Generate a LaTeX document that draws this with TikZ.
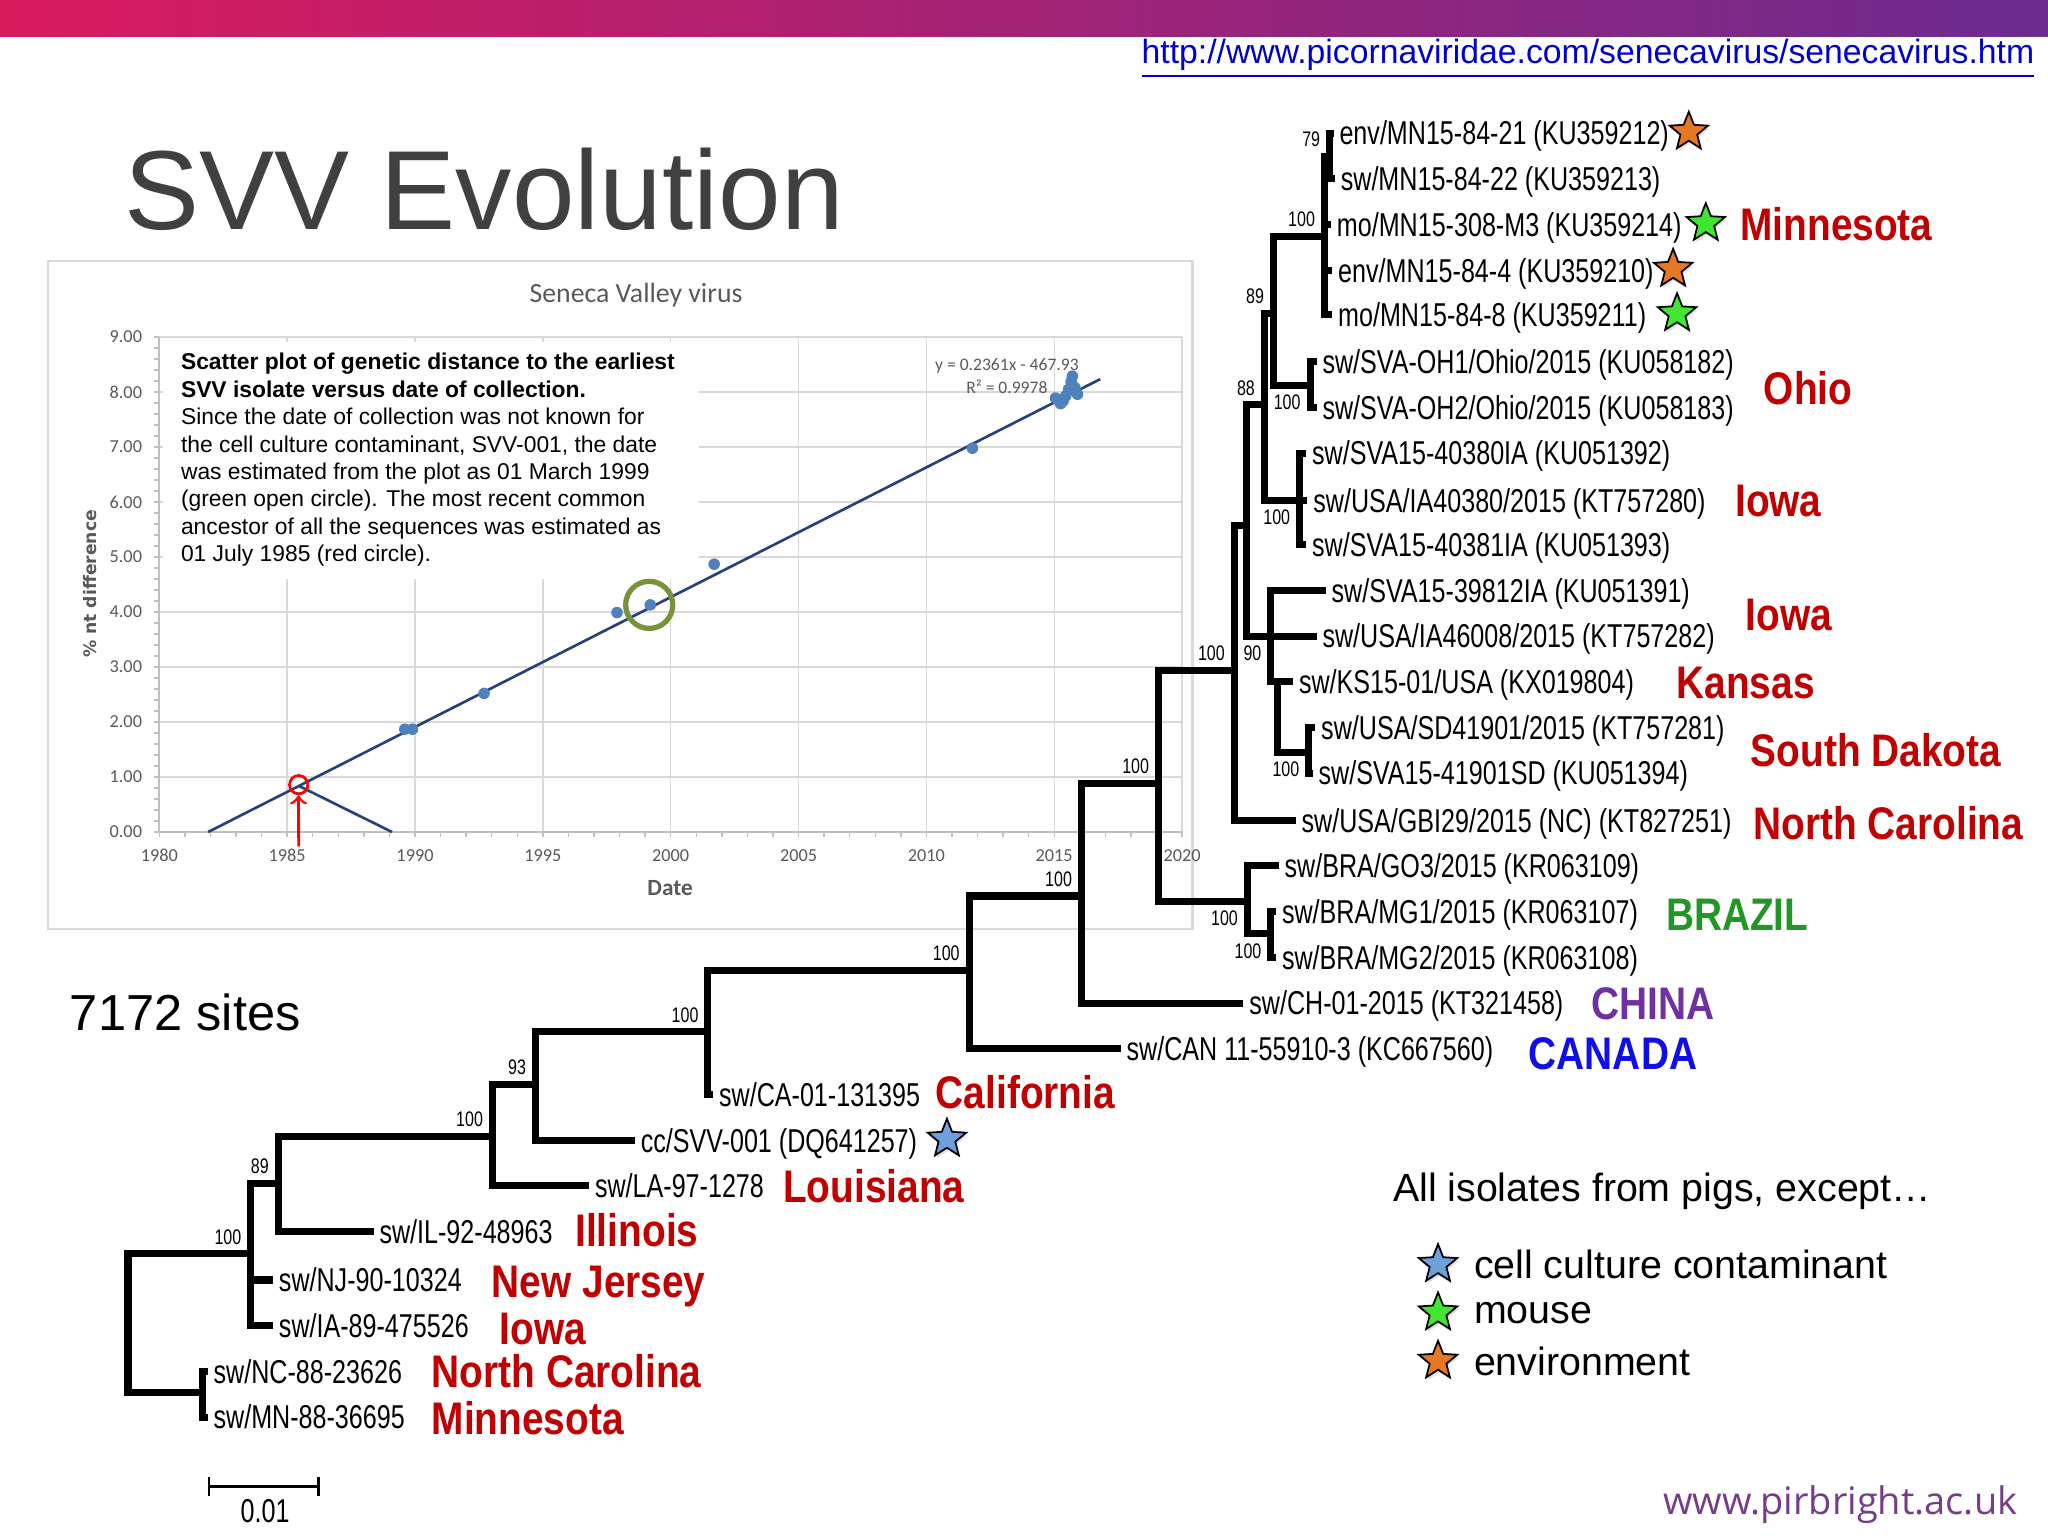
\documentclass[tikz,border=0pt]{standalone}
\usepackage{fontspec}
\setmainfont{Liberation Sans}
\newfontfamily\narrowfont{Liberation Sans}[FakeStretch=0.76]
\newfontfamily\regionfont{Liberation Sans}[FakeStretch=0.85]
\newfontfamily\chartfont{Carlito}
\newfontfamily\axisfont{DejaVu Sans}
\newfontfamily\webfont{Open Sans}
\usepackage{tikz}
\usetikzlibrary{positioning, shapes.geometric, shadows, arrows}

\definecolor{barleft}{RGB}{217,27,92}
\definecolor{barright}{RGB}{108,43,143}
\definecolor{titlegray}{RGB}{64,64,64}
\definecolor{linkblue}{RGB}{0,0,204}
\definecolor{chartgray}{RGB}{89,89,89}
\definecolor{gridgray}{RGB}{217,217,217}
\definecolor{axisgray}{RGB}{191,191,191}
\definecolor{trendblue}{RGB}{37,64,122}
\definecolor{dotblue}{RGB}{79,129,189}
\definecolor{olivegreen}{RGB}{119,147,60}
\definecolor{regionred}{RGB}{192,0,0}
\definecolor{brazilgreen}{RGB}{36,150,40}
\definecolor{chinapurple}{RGB}{112,48,160}
\definecolor{canadablue}{RGB}{16,16,230}
\definecolor{starorange}{RGB}{232,119,34}
\definecolor{stargreen}{RGB}{64,230,50}
\definecolor{starblue}{RGB}{110,160,220}
\definecolor{pirpurple}{RGB}{118,60,140}

\tikzset{
  branch/.style={line width=2pt, line join=miter},
  leaf/.style={anchor=west, inner xsep=1.5pt, inner ysep=0pt, text height=8.4pt, text depth=1.7pt, font=\narrowfont\fontsize{9.4pt}{10.5pt}\selectfont},
  region/.style={anchor=west, inner sep=0pt, text height=11pt, text depth=1.7pt, font=\regionfont\bfseries\fontsize{13pt}{14pt}\selectfont, text=regionred},
  boot/.style={inner sep=2.5pt, font=\narrowfont\fontsize{6pt}{6.5pt}\selectfont},
  starmark/.style={star, star points=5, star point ratio=2.3, minimum size=11.5pt, inner sep=0pt, draw=black, line width=0.5pt, drop shadow={opacity=0.25, shadow xshift=0.4pt, shadow yshift=-0.8pt}},
  legendtext/.style={anchor=west, inner sep=0pt, font=\fontsize{11.2pt}{13pt}\selectfont},
  gridline/.style={draw=gridgray, line width=0.4pt},
  ticklabel/.style={inner sep=0pt, text=chartgray, font=\chartfont\fontsize{5.2pt}{6pt}\selectfont},
  datadot/.style={circle, fill=dotblue, inner sep=0pt, minimum size=3.3pt},
  trend/.style={draw=trendblue, line width=0.75pt},
  notetext/.style={anchor=north west, inner sep=0pt, align=left, font=\fontsize{6.5pt}{7.8pt}\selectfont}
}

\begin{document}
\begin{tikzpicture}[x=0.013061cm, y=-0.013061cm]
\useasboundingbox (0,0) rectangle (1568,1176);

% header
\shade[left color=barleft, right color=barright] (0,0) rectangle (1568,28);
\node[anchor=east, inner sep=0pt, text=linkblue, font=\fontsize{9.6pt}{11pt}\selectfont] (url) at (1558,45) {\underline{http://www.picornaviridae.com/senecavirus/senecavirus.htm}};
\node[anchor=west, inner sep=0pt, text=titlegray, font=\fontsize{32pt}{36pt}\selectfont] (title) at (95,145) {SVV Evolution};

% scatter plot
\draw[gridgray, line width=0.6pt] (37,200) rectangle (913,711);
\node[font=\chartfont\fontsize{7.9pt}{9pt}\selectfont, text=chartgray] (ctitle) at (487,226) {Seneca Valley virus};
\node[rotate=90, font=\axisfont\bfseries\fontsize{4.9pt}{6pt}\selectfont, text=chartgray] (ytitle) at (69,447) {\% nt difference};
\node[font=\chartfont\bfseries\fontsize{6.6pt}{8pt}\selectfont, text=chartgray] (xtitle) at (513,680) {Date};
\begin{scope}[shift={(122,637)}, xscale=19.575, yscale=-42.1]
  \foreach \v in {1,...,9} \draw[gridline] (0,\v) -- (40,\v);
  \foreach \t in {5,10,...,40} \draw[gridline] (\t,0) -- (\t,9);
  \draw[axisgray, line width=0.5pt] (0,0) -- (40,0) (0,0) -- (0,9);
  \foreach \v in {0,0.2,...,9} \draw[axisgray, line width=0.4pt] (0,\v) -- (-0.2,\v);
  \foreach \t in {0,...,40} \draw[axisgray, line width=0.4pt] (\t,0) -- (\t,-0.09);
  \foreach \v in {0,...,9} \node[ticklabel, anchor=east] at (-0.65,\v) {\v.00};
  \foreach \t [evaluate=\t as \yr using int(1980+\t)] in {0,5,...,40} \node[ticklabel, anchor=north] at (\t,-0.3) {\yr};
  \fill[white] (0.15,8.91) rectangle (21.1,4.61);
  \node[notetext] (note) at (0.82,8.72) {\textbf{Scatter plot of genetic distance to the earliest}\\
    \textbf{SVV isolate versus date of collection.}\\
    Since the date of collection was not known for\\
    the cell culture contaminant, SVV-001, the date\\
    was estimated from the plot as 01 March 1999\\
    (green open circle). The most recent common\\
    ancestor of all the sequences was estimated as\\
    01 July 1985 (red circle).};
  \node[align=center, inner sep=0pt, text=chartgray, font=\chartfont\fontsize{5pt}{6.3pt}\selectfont] (eq) at (33.15,8.29) {y = 0.2361x - 467.93\\R² = 0.9978};
  \draw[trend] (1.91,0) -- (36.8,8.236);
  \draw[trend] (5.45,0.84) -- (9.1,0);
  \foreach \t/\v in {9.6/1.87, 9.9/1.87, 12.7/2.52, 17.9/3.99, 19.2/4.13, 21.7/4.87, 31.8/6.98,
      35.05/7.89, 35.25/7.79, 35.45/7.93, 35.66/8.19, 35.71/8.29, 35.81/8.08, 35.91/7.96, 35.56/8.05, 35.35/7.84}
    \node[datadot] at (\t,\v) {};
  \node[circle, draw=olivegreen, line width=1.5pt, minimum size=13.4pt, inner sep=0pt] (svv) at (19.16,4.13) {};
  \node[circle, draw=red, line width=0.8pt, minimum size=5.2pt, inner sep=0pt] (mrca) at (5.45,0.86) {};
  \draw[->, red, line width=0.8pt] (5.45,-0.26) -- (mrca.south);
\end{scope}

% tree: internal nodes
\coordinate (root) at (98,1013);
\coordinate (nK) at (192,960);
\coordinate (nL) at (155,1066);
\coordinate (nJ) at (213,906);
\coordinate (nI) at (377,870);
\coordinate (nH) at (410,830);
\coordinate (nG) at (542,790);
\coordinate (nF) at (742,743);
\coordinate (nE) at (828,686);
\coordinate (nD) at (887,600);
\coordinate (nA) at (945,513);
\coordinate (nB) at (954,402);
\coordinate (n88) at (968,310);
\coordinate (n89) at (975,240);
\coordinate (nMN) at (1014,181);
\coordinate (n79) at (1018,119.5);
\coordinate (nOH) at (1003,295);
\coordinate (nIA) at (995,383);
\coordinate (n90) at (973,487);
\coordinate (nC) at (978,522);
\coordinate (nSD) at (1002,576);
\coordinate (nBR) at (955,690);
\coordinate (nMG) at (973,715);

% tree: leaves
\node[leaf] (l1) at (1021,102) {env/MN15-84-21 (KU359212)};
\node[leaf] (l2) at (1022,137) {sw/MN15-84-22 (KU359213)};
\node[leaf] (l3) at (1019,172) {mo/MN15-308-M3 (KU359214)};
\node[leaf] (l4) at (1020,207) {env/MN15-84-4 (KU359210)};
\node[leaf] (l5) at (1020,241) {mo/MN15-84-8 (KU359211)};
\node[leaf] (l6) at (1008,277) {sw/SVA-OH1/Ohio/2015 (KU058182)};
\node[leaf] (l7) at (1008,312) {sw/SVA-OH2/Ohio/2015 (KU058183)};
\node[leaf] (l8) at (1000,347) {sw/SVA15-40380IA (KU051392)};
\node[leaf] (l9) at (1001,383) {sw/USA/IA40380/2015 (KT757280)};
\node[leaf] (l10) at (1000,417) {sw/SVA15-40381IA (KU051393)};
\node[leaf] (l11) at (1015,452) {sw/SVA15-39812IA (KU051391)};
\node[leaf] (l12) at (1008,487) {sw/USA/IA46008/2015 (KT757282)};
\node[leaf] (l13) at (990,522) {sw/KS15-01/USA (KX019804)};
\node[leaf] (l14) at (1007,557) {sw/USA/SD41901/2015 (KT757281)};
\node[leaf] (l15) at (1005,592) {sw/SVA15-41901SD (KU051394)};
\node[leaf] (l16) at (992,628) {sw/USA/GBI29/2015 (NC) (KT827251)};
\node[leaf] (l17) at (979,663) {sw/BRA/GO3/2015 (KR063109)};
\node[leaf] (l18) at (977,698) {sw/BRA/MG1/2015 (KR063107)};
\node[leaf] (l19) at (977,733) {sw/BRA/MG2/2015 (KR063108)};
\node[leaf] (l20) at (952,768) {sw/CH-01-2015 (KT321458)};
\node[leaf] (l21) at (858,803) {sw/CAN 11-55910-3 (KC667560)};
\node[leaf] (l22) at (546,838) {sw/CA-01-131395};
\node[leaf] (l23) at (486,873) {cc/SVV-001 (DQ641257)};
\node[leaf] (l24) at (451,908) {sw/LA-97-1278};
\node[leaf] (l25) at (286,943) {sw/IL-92-48963};
\node[leaf] (l26) at (209,980) {sw/NJ-90-10324};
\node[leaf] (l27) at (209,1015) {sw/IA-89-475526};
\node[leaf] (l28) at (159,1050) {sw/NC-88-23626};
\node[leaf] (l29) at (159,1085) {sw/MN-88-36695};

% tree: branches
\foreach \p/\c in {root/nK, root/nL, nK/nJ, nK/l26.west, nK/l27.west, nJ/nI, nJ/l25.west,
    nI/nH, nI/l24.west, nH/nG, nH/l23.west, nG/nF, nG/l22.west, nF/nE, nF/l21.west,
    nE/nD, nE/l20.west, nD/nA, nD/nBR, nA/nB, nA/l16.west, nB/n88, nB/n90,
    n88/n89, n88/nIA, n89/nMN, n89/nOH, nMN/n79, nMN/l3.west, nMN/l4.west, nMN/l5.west,
    n79/l1.west, n79/l2.west, nOH/l6.west, nOH/l7.west, nIA/l8.west, nIA/l9.west, nIA/l10.west,
    n90/l11.west, n90/l12.west, n90/nC, nC/l13.west, nC/nSD, nSD/l14.west, nSD/l15.west,
    nBR/l17.west, nBR/nMG, nMG/l18.west, nMG/l19.west, nL/l28.west, nL/l29.west}
  \draw[branch] (\p) |- (\c);

% bootstrap values
\node[boot, above left] at (nK) {100};
\node[boot, above left] at (nJ) {89};
\node[boot, above left] at (nI) {100};
\node[boot, above left] at (nH) {93};
\node[boot, above left] at (nG) {100};
\node[boot, above left] at (nF) {100};
\node[boot, above left] at (nE) {100};
\node[boot, above left] at (nD) {100};
\node[boot, above left] at (nA) {100};
\node[boot, above left] at (n88) {88};
\node[boot, above left] at (n89) {89};
\node[boot, above left] at (nMN) {100};
\node[boot, above left] at (n79) {79};
\node[boot, below left] at (nOH) {100};
\node[boot, below left] at (nIA) {100};
\node[boot, below left] at (n90) {90};
\node[boot, below left] at (nSD) {100};
\node[boot, below left] at (nBR) {100};
\node[boot, below left] at (nMG) {100};

% host stars
\node[starmark, fill=starorange] (s1) at (1293,101) {};
\node[starmark, fill=stargreen] (s2) at (1306,171) {};
\node[starmark, fill=starorange] (s3) at (1281,206) {};
\node[starmark, fill=stargreen] (s4) at (1284,240) {};
\node[starmark, fill=starblue] (s5) at (725,872) {};

% regions
\node[region] (r1) at (1332,172) {Minnesota};
\node[region] (r2) at (1350,297) {Ohio};
\node[region] (r3) at (1328,383) {Iowa};
\node[region] (r4) at (1336,470) {Iowa};
\node[region] (r5) at (1283,522) {Kansas};
\node[region] (r6) at (1340,574) {South Dakota};
\node[region] (r7) at (1342,630) {North Carolina};
\node[region, text=brazilgreen] (r8) at (1275,700) {BRAZIL};
\node[region, text=chinapurple] (r9) at (1218,768) {CHINA};
\node[region, text=canadablue] (r10) at (1170,806) {CANADA};
\node[region] (r11) at (716,836) {California};
\node[region] (r12) at (599,908) {Louisiana};
\node[region] (r13) at (440,942) {Illinois};
\node[region] (r14) at (376,981) {New Jersey};
\node[region] (r15) at (382,1017) {Iowa};
\node[region] (r16) at (330,1050) {North Carolina};
\node[region] (r17) at (330,1086) {Minnesota};

% sites and scale bar
\node[anchor=west, inner sep=0pt, font=\fontsize{14.4pt}{16pt}\selectfont] (sites) at (53,775) {7172 sites};
\draw[line width=0.7pt] (160,1131) -- (160,1145) (160,1138) -- (244,1138) (244,1131) -- (244,1145);
\node[leaf, anchor=center, inner sep=0pt] (sbar) at (203,1157) {0.01};

% legend
\node[legendtext] (except) at (1066,912) {All isolates from pigs, except…};
\node[starmark, fill=starblue] (k1) at (1101,968) {};
\node[starmark, fill=stargreen] (k2) at (1101,1005) {};
\node[starmark, fill=starorange] (k3) at (1101,1042) {};
\node[legendtext] (t1) at (1128,968) {cell culture contaminant};
\node[legendtext] (t2) at (1128,1005) {mouse};
\node[legendtext] (t3) at (1128,1042) {environment};

\node[anchor=east, inner sep=0pt, text=pirpurple, font=\webfont\fontsize{10.8pt}{12pt}\selectfont] (web) at (1545,1152) {www.pirbright.ac.uk};
\end{tikzpicture}
\end{document}
